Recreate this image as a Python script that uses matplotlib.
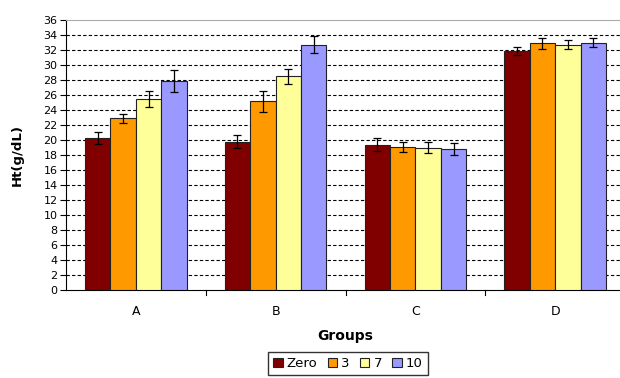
import matplotlib
matplotlib.use("Agg")
import matplotlib.pyplot as plt
import numpy as np

groups = ["A", "B", "C", "D"]
series = ["Zero", "3", "7", "10"]
colors = ["#800000", "#FF9900", "#FFFF99", "#9999FF"]

values = {
    "Zero": [20.3, 19.8, 19.4, 31.9],
    "3":    [22.9, 25.2, 19.1, 32.9],
    "7":    [25.5, 28.5, 19.0, 32.7],
    "10":   [27.9, 32.7, 18.8, 33.0],
}
errors = {
    "Zero": [0.8, 0.9, 0.9, 0.55],
    "3":    [0.6, 1.4, 0.7, 0.75],
    "7":    [1.1, 1.0, 0.7, 0.6],
    "10":   [1.45, 1.15, 0.8, 0.65],
}

W, H = 620, 378
fig = plt.figure(figsize=(W / 100, H / 100), dpi=100)
ax = fig.add_axes([66 / W, 1 - 290 / H, 559 / W, 270 / H])

x = np.arange(len(groups))
bw = 0.182
for i, s in enumerate(series):
    pos = x + (i - 1.5) * bw
    ax.bar(pos, values[s], bw, color=colors[i], edgecolor="#222222",
           linewidth=0.8, label=s, zorder=3)
    ax.errorbar(pos, values[s], yerr=errors[s], fmt="none", ecolor="black",
                elinewidth=0.9, capsize=3, capthick=0.9, zorder=4)

ax.set_xlim(-0.5, 3.5)
ax.set_ylim(0, 36)
ax.set_yticks(np.arange(0, 37, 2))
ax.set_xticks(x)
ax.set_xticklabels(groups, fontsize=9)
ax.tick_params(axis="y", labelsize=8, length=4, width=0.8, pad=2)
ax.tick_params(axis="x", length=0, pad=11)
for b in np.arange(0.5, 3.5, 1.0):
    ax.plot([b, b], [0, -0.6], color="black", lw=0.8, clip_on=False)

for yv in np.arange(2, 36, 2):
    ax.axhline(yv, color="black", lw=0.8, ls=(0, (3, 2)), zorder=1)

ax.spines["right"].set_visible(False)
ax.spines["top"].set_color("#aaaaaa")
ax.spines["left"].set_linewidth(0.8)
ax.spines["bottom"].set_linewidth(0.8)

ax.set_ylabel("Ht(g/dL)", fontsize=9.5, fontweight="bold", labelpad=14)
ax.set_xlabel("Groups", fontsize=10, fontweight="bold", labelpad=8)

fig.legend(loc="upper center", bbox_to_anchor=(348 / W, 1 - 345 / H),
           ncol=4, fontsize=9.5, frameon=True, fancybox=False,
           edgecolor="black", handlelength=0.7, handleheight=0.7,
           handletextpad=0.3, columnspacing=0.8, borderpad=0.4)

fig.savefig("out.png", dpi=100)
